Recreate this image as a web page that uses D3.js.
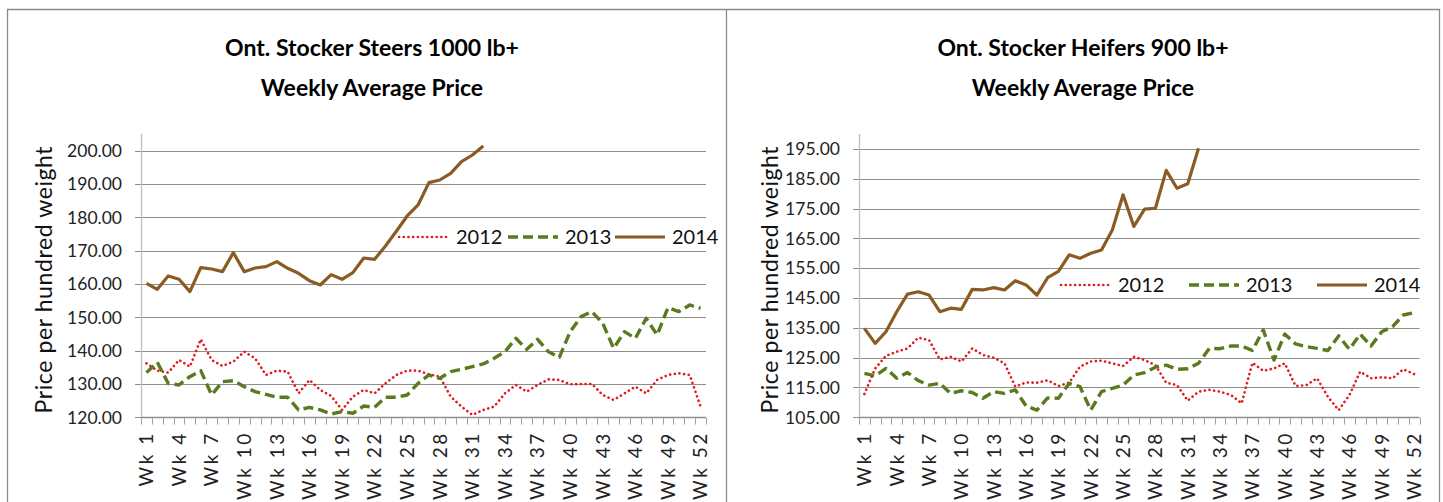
<!DOCTYPE html>
<html>
<head>
<meta charset="utf-8">
<script src="https://cdn.jsdelivr.net/npm/d3@7/dist/d3.min.js"></script>
<style>
body{margin:0;background:#fff;}
svg{display:block;font-family:Lato,"Open Sans",sans-serif;}
</style>
</head>
<body>
<div id="plot"></div>
<script>
//Data
var weeks = d3.range(1,53).map(function(d){return 'Wk ' + d;});
var weekLabels = weeks.filter(function(d,i){return i % 3 == 0;});
var years = ['2012','2013','2014'];

var steers2012 = [136.2,134,133.4,137.2,135.2,143.4,137.2,135.4,136.7,139.7,137.7,132.7,134,133.7,127.2,131.2,128.2,126.4,122.2,126.2,
	128.2,127.2,130.2,132.7,134,134,132.9,132.2,126.2,123.2,120.7,122.2,123.2,127.2,129.7,127.7,129.7,131.4,131.2,129.9,
	130,130,126.7,125.2,127.2,129.2,127.2,131.2,132.7,133.2,132.7,123.2];
var steers2013 = [133.4,136.5,130.2,129.7,132.2,134,126.7,130.7,131,129.2,127.7,126.9,126,126,122.2,123,122.2,121,121.7,121.2,
	123.4,123,126,126,126.7,130.2,132.7,131.7,133.7,134.4,135.2,136,137.7,139.7,143.7,140.4,143.4,139.7,138,145.7,
	150.2,151.7,148.2,140.7,145.7,143.7,149.7,144.7,152.9,151.7,153.7,152.7];
var steers2014 = [160.2,158.4,162.4,161.4,157.7,164.9,164.5,163.7,169.4,163.7,164.8,165.2,166.7,164.7,163.2,161,159.7,162.8,161.4,163.4,
	167.8,167.4,171.4,175.8,180.4,183.7,190.4,191.2,193.2,196.7,198.7,201.4];

var heifers2012 = [112.8,121.4,125.6,127,128.1,131.7,130.9,124.4,125.3,123.7,128.1,125.9,125,123.1,115.3,116.7,116.6,117.4,115.5,116.6,
	122,123.7,124,123.1,122.2,125.3,124.2,122.5,116.6,115.8,110.6,113.6,114.2,113.6,112.5,109.7,123.3,120.6,121.4,123.1,
	115.5,115.8,118.1,111.9,107.4,112.5,120.3,118.1,118.4,118.1,121.1,119.5];
var heifers2013 = [119.7,118.9,121.4,118.1,120,117.3,115.8,116.4,113,113.9,113.3,111.4,113.6,113,114.2,108.8,107.4,111.5,111.4,116.4,
	115.3,107.4,113.6,114.7,115.8,119.2,120,121.8,122.5,121.1,121.3,123.1,128.1,128,128.9,128.9,127.4,134.3,124.2,132.9,
	129.6,128.7,128.1,127.4,132.3,127.8,132.9,128.9,133.7,135.4,139.3,140.1];
var heifers2014 = [134.8,129.8,133.7,140.4,146.3,147.1,146,140.4,141.6,141.2,147.9,147.7,148.5,147.7,150.8,149.4,146,151.8,153.9,159.5,
	158.3,160,161.1,167.8,179.6,169,174.8,175.1,187.8,181.8,183.3,195.2];

var steersTicks = [120,130,140,150,160,170,180,190,200];
var heifersTicks = [105,115,125,135,145,155,165,175,185,195];

//line styles for the three years
var yearStyle = {
	'2012': {color:'#e3191c', width:2.6, dash:'0.1,4.6', cap:'round'},
	'2013': {color:'#5b7a1e', width:3.4, dash:'10,5', cap:'butt'},
	'2014': {color:'#8a5b22', width:3.2, dash:null, cap:'butt'}
};

var W = 1443, H = 502;
var svg = d3.select('#plot')
	.append('svg')
	.attr('width',W)
	.attr('height',H);

//panel frames
var frame = svg.append('g').attr('stroke','#8c8c8c').attr('stroke-width',1.3).attr('fill','none');
frame.append('path').attr('d','M7.5,'+H+'V9.5H1439.5V'+H);
frame.append('path').attr('d','M726.5,9.5V'+H);

function drawChart(opt) {
	var g = svg.append('g');

	var x = d3.scaleBand()
		.domain(weeks)
		.range([opt.x0, opt.x1]);
	var y = d3.scaleLinear()
		.domain(opt.domain)
		.range([opt.y1, opt.y0]);

	//gridlines
	g.selectAll('.grid')
		.data(opt.ticks.slice(1))
		.enter()
		.append('line')
		.attr('x1',opt.x0 - 6)
		.attr('x2',opt.x1)
		.attr('y1',function(d){return Math.round(y(d)) + 0.5;})
		.attr('y2',function(d){return Math.round(y(d)) + 0.5;})
		.style('stroke','#8e8e8e')
		.style('stroke-width',1.2);

	//y axis line + labels
	g.append('line')
		.attr('x1',opt.x0 + 0.5).attr('x2',opt.x0 + 0.5)
		.attr('y1',opt.y0).attr('y2',opt.y1)
		.style('stroke','#bdbdbd')
		.style('stroke-width',1.3);
	g.append('line')
		.attr('x1',opt.x0 - 6).attr('x2',opt.x0)
		.attr('y1',Math.round(y(opt.ticks[0])) + 0.5).attr('y2',Math.round(y(opt.ticks[0])) + 0.5)
		.style('stroke','#8e8e8e');
	g.selectAll('.ylab')
		.data(opt.ticks)
		.enter()
		.append('text')
		.attr('x',opt.x0 - 19)
		.attr('y',function(d){return y(d);})
		.attr('dy','0.36em')
		.attr('text-anchor','end')
		.style('font-size','17.5px')
		.style('fill','#222')
		.text(function(d){return d3.format('.2f')(d);});

	//x axis line, tick marks between categories
	var yb = Math.round(opt.y1) + 0.5;
	g.append('line')
		.attr('x1',opt.x0).attr('x2',opt.x1)
		.attr('y1',yb).attr('y2',yb)
		.style('stroke','#8e8e8e')
		.style('stroke-width',1.3);
	var bounds = weeks.map(function(d){return x(d);}).concat([opt.x1]);
	g.selectAll('.xtick')
		.data(bounds)
		.enter()
		.append('line')
		.attr('x1',function(d){return Math.round(d) + 0.5;})
		.attr('x2',function(d){return Math.round(d) + 0.5;})
		.attr('y1',yb).attr('y2',yb + 7)
		.style('stroke','#a0a0a0');
	g.selectAll('.xlab')
		.data(weekLabels)
		.enter()
		.append('text')
		.attr('transform',function(d){return 'translate(' + (x(d) + x.bandwidth()/2) + ',' + (opt.y1 + 14) + ') rotate(-90)';})
		.attr('dy','0.36em')
		.attr('text-anchor','end')
		.style('font-size','19px')
		.style('letter-spacing','2.5px')
		.style('fill','#222')
		.text(function(d){return d;});

	//y title
	g.append('text')
		.attr('transform','translate(' + opt.ytX + ',' + ((opt.y0 + opt.y1)/2 + 4) + ') rotate(-90)')
		.attr('dy','0.36em')
		.attr('text-anchor','middle')
		.style('font-size','23px')
		.style('letter-spacing','0.6px')
		.style('fill','#111')
		.text('Price per hundred weight');

	//chart title
	opt.title.forEach(function(t,i){
		g.append('text')
			.attr('x',opt.titleX)
			.attr('y',56 + i*40)
			.attr('text-anchor','middle')
			.style('font-size','23px')
			.style('font-weight','bold')
			.style('fill','#000')
			.text(t);
	});

	//series
	var line = d3.line()
		.x(function(d,i){return x(weeks[i]) + x.bandwidth()/2;})
		.y(function(d){return y(d);});
	years.forEach(function(yr,i){
		var st = yearStyle[yr];
		g.append('path')
			.datum(opt.series[i])
			.attr('d',line)
			.style('fill','none')
			.style('stroke',st.color)
			.style('stroke-width',st.width)
			.style('stroke-dasharray',st.dash)
			.style('stroke-linecap',st.cap)
			.style('stroke-linejoin','round');
	});

	//legend
	years.forEach(function(yr,i){
		var st = yearStyle[yr];
		var lx = opt.legendX[i];
		g.append('line')
			.attr('x1',lx).attr('x2',lx + opt.legendLen)
			.attr('y1',opt.legendY).attr('y2',opt.legendY)
			.style('stroke',st.color)
			.style('stroke-width',st.width)
			.style('stroke-dasharray',st.dash)
			.style('stroke-linecap',st.cap);
		g.append('text')
			.attr('x',lx + opt.legendLen + 7)
			.attr('y',opt.legendY)
			.attr('dy','0.36em')
			.style('font-size','20px')
			.style('fill','#111')
			.text(yr);
	});
}

drawChart({
	x0:141, x1:706, y0:134, y1:417.3,
	domain:[120,205], ticks:steersTicks,
	series:[steers2012, steers2013, steers2014],
	title:['Ont. Stocker Steers 1000 lb+','Weekly Average Price'], titleX:372,
	ytX:44,
	legendX:[399,508,615], legendLen:50, legendY:237
});

drawChart({
	x0:859, x1:1419.5, y0:134, y1:417.3,
	domain:[105,200], ticks:heifersTicks,
	series:[heifers2012, heifers2013, heifers2014],
	title:['Ont. Stocker Heifers 900 lb+','Weekly Average Price'], titleX:1083,
	ytX:770,
	legendX:[1061,1189,1317], legendLen:50, legendY:285
});
</script>
</body>
</html>
